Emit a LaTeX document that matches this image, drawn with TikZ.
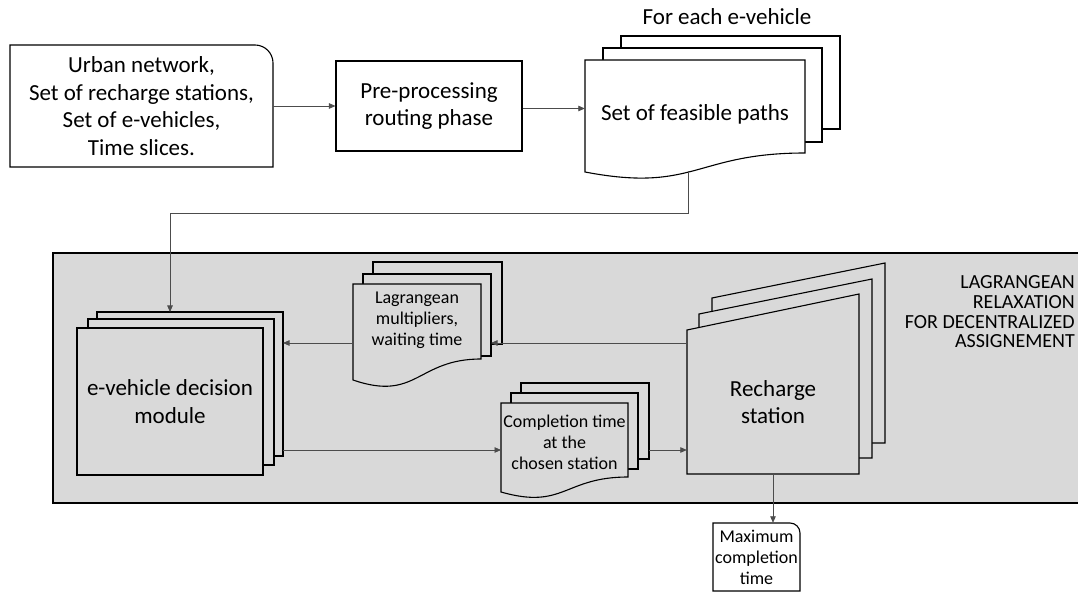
\documentclass[tikz,border=0pt]{standalone}
\usepackage{fontspec}
\setmainfont{Carlito}
\usetikzlibrary{arrows.meta}
\definecolor{panel}{HTML}{D9D9D9}
\tikzset{
  outline/.style={draw=black, line width=1.1pt, line join=miter},
  conn/.style={draw=black!70, line width=0.8pt, -{Triangle[length=6.5pt,width=5.5pt]}},
  lbl/.style={inner sep=0pt, align=center, text=black},
  big/.style={font=\fontsize{23}{27.5}\selectfont},
  small/.style={font=\fontsize{18}{21}\selectfont},
}
\begin{document}
\begin{tikzpicture}[x=1pt,y=-1pt]
\clip (0,0) rectangle (1078,593);

% shaded panel of the decentralized assignment loop
\draw[outline, fill=panel] (53,253) rectangle (1100,503);

% input data box, rounded top-right corner
\draw[outline, fill=white] (10,167) -- (10,45) -- (255,45)
  arc[start angle=90, end angle=0, radius=18pt] -- (273,167) -- cycle;

% stack of feasible-path documents
\draw[outline, fill=white] (621,36) rectangle (840,129);
\draw[outline, fill=white] (603,48) rectangle (822,142);
\draw[outline, fill=white] (585,60) -- (805,60) -- (805,153)
  .. controls (695,153) and (695,193) .. (585,172) -- cycle;

% stack of e-vehicle decision modules
\draw[outline, fill=panel] (97,312) rectangle (283,456);
\draw[outline, fill=panel] (88,319) rectangle (274,465);
\draw[outline, fill=panel] (77,328) rectangle (263,475);

% stack of multiplier documents
\draw[outline, fill=panel] (373,262) rectangle (502,344);
\draw[outline, fill=panel] (363,274) rectangle (491,356);
\draw[outline, fill=panel] (353,284) -- (481,284) -- (481,359)
  .. controls (417,359) and (417,402) .. (353,380) -- cycle;

% stack of completion-time documents
\draw[outline, fill=panel] (521,383) rectangle (649,459);
\draw[outline, fill=panel] (511,393) rectangle (638,469);
\draw[outline, fill=panel] (501,403) -- (628,403) -- (628,477)
  .. controls (564,477) and (564,510) .. (501,492) -- cycle;

% stack of recharge stations (slanted tops)
\draw[outline, fill=panel] (712,298) -- (885,263) -- (885,443) -- (712,443) -- cycle;
\draw[outline, fill=panel] (699,314) -- (872,279) -- (872,458) -- (699,458) -- cycle;
\draw[outline, fill=panel] (687,330) -- (859,294) -- (859,474) -- (687,474) -- cycle;

% output box, rounded top-right corner
\draw[outline, fill=white] (713,591) -- (713,523) -- (790,523)
  arc[start angle=90, end angle=0, radius=10pt] -- (800,591) -- cycle;

% texts
\node[lbl, big, minimum width=263pt, minimum height=122pt] (inp) at (141.5,106)
  {Urban network,\\Set of recharge stations,\\Set of e-vehicles,\\Time slices.};
\node[lbl, big, outline, fill=white, minimum width=186pt, minimum height=90pt] (pre) at (429,106)
  {Pre-processing\\routing phase};
\node[lbl, big] (each) at (727,17) {For each e-vehicle};
\node[lbl, big, minimum width=220pt, minimum height=108pt] (fp) at (695,114)
  {Set of feasible paths};
\node[lbl, big, minimum width=186pt, minimum height=147pt] (ev) at (170,401.5)
  {e-vehicle decision\\module};
\node[lbl, small, minimum width=128pt, minimum height=72pt] (ln) at (417,320)
  {Lagrangean\\multipliers,\\waiting time};
\node[lbl, small, minimum width=127pt, minimum height=78pt] (cd) at (564.5,442)
  {Completion time\\at the\\chosen station};
\node[lbl, big, minimum width=172pt, minimum height=144pt] (rs) at (773,402)
  {Recharge\\station};
\node[lbl, small, minimum width=87pt, minimum height=68pt] (mx) at (756.5,557)
  {Maximum\\completion\\time};
\node[lbl, align=right, anchor=east, font=\fontsize{20}{19.7}\selectfont] (lr) at (1075,312)
  {LAGRANGEAN\\RELAXATION\\FOR DECENTRALIZED\\ASSIGNEMENT};

% connection points on the stacked shapes
\coordinate (fpout) at (688,171.5);
\coordinate (evtop) at (170,312);
\coordinate (evR) at (283,343);
\coordinate (lgR) at (491,343);
\coordinate (cdin) at (501,450);
\coordinate (cdout) at (649,450);

% connectors
\draw[conn] (inp.east) -- (pre.west);
\draw[conn] ([yshift=-2.5pt]pre.east) -- ([yshift=-2.5pt]pre.east -| fp.west);
\draw[conn] (fpout) -- ++(0,41.5) -| (evtop);
\draw[conn] (rs.west |- lgR) -- (lgR);
\draw[conn] (ln.west |- evR) -- (evR);
\draw[conn] (evR |- cdin) -- (cdin);
\draw[conn] (cdout) -- (rs.west |- cdout);
\draw[conn] (rs.south) -- (rs.south |- mx.north);
\end{tikzpicture}
\end{document}
